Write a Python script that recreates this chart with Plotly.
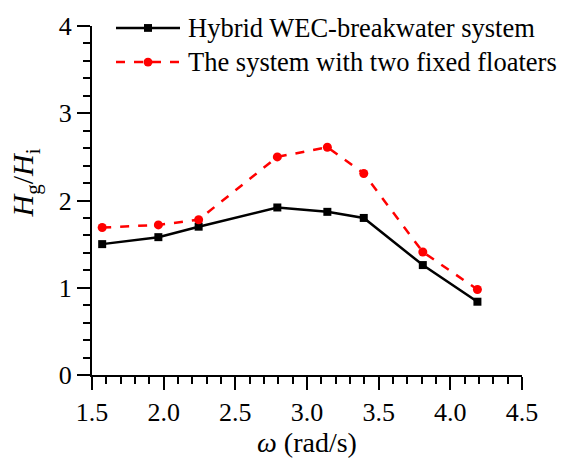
import plotly.graph_objects as go

omega = [1.571, 1.963, 2.244, 2.793, 3.142, 3.396, 3.808, 4.189]
hybrid = [1.50, 1.58, 1.70, 1.92, 1.87, 1.80, 1.26, 0.84]
fixed = [1.69, 1.72, 1.78, 2.50, 2.61, 2.31, 1.41, 0.98]
names = ["Hybrid WEC-breakwater system", "The system with two fixed floaters"]
colors = ["black", "#ff0000"]

FONT = "Liberation Serif, Times New Roman, serif"

fig = go.Figure()
fig.add_trace(go.Scatter(x=omega, y=hybrid, name=names[0], mode="lines+markers",
                         line=dict(color=colors[0], width=2.5),
                         marker=dict(symbol="square", size=8, color=colors[0]),
                         showlegend=False))
fig.add_trace(go.Scatter(x=omega, y=fixed, name=names[1], mode="lines+markers",
                         line=dict(color=colors[1], width=2.5, dash="dash"),
                         marker=dict(symbol="circle", size=9, color=colors[1]),
                         showlegend=False))

axis_common = dict(showline=True, linecolor="black", linewidth=2, mirror=False,
                   ticks="outside", ticklen=13, tickwidth=2, tickcolor="black",
                   showgrid=False, zeroline=False,
                   tickfont=dict(family=FONT, size=26, color="black"))

fig.update_xaxes(range=[1.5, 4.5], dtick=0.5, tickformat=".1f",
                 minor=dict(dtick=0.1, ticks="outside", ticklen=7, tickwidth=2, tickcolor="black"),
                 title=dict(text="<i>ω</i> (rad/s)", font=dict(family=FONT, size=28, color="black"), standoff=5),
                 **axis_common)
fig.update_yaxes(range=[0, 4], dtick=1,
                 minor=dict(dtick=0.2, ticks="outside", ticklen=7, tickwidth=2, tickcolor="black"),
                 **axis_common)

fig.add_annotation(text="<i>H</i><sub>g</sub>/<i>H</i><sub>i</sub>",
                   xref="paper", yref="paper", x=-0.155, y=0.55,
                   xanchor="center", yanchor="middle", textangle=-90, showarrow=False,
                   font=dict(family=FONT, size=30, color="black"))

# manual legend (paper coordinates)
W, H = 430.0, 358.0
leg_rows = [1.0 - 2 / H, 1.0 - 37 / H]
x0, x1, xm, xt = 24 / W, 88 / W, 56 / W, 94 / W
for i in range(2):
    yy = leg_rows[i]
    fig.add_shape(type="line", xref="paper", yref="paper", x0=x0, x1=x1, y0=yy, y1=yy,
                  line=dict(color=colors[i], width=2.5, dash="solid" if i == 0 else "dash"))
    if i == 0:
        fig.add_shape(type="rect", xref="paper", yref="paper",
                      x0=xm - 4 / W, x1=xm + 4 / W, y0=yy - 4 / H, y1=yy + 4 / H,
                      fillcolor=colors[i], line=dict(width=0))
    else:
        fig.add_shape(type="circle", xref="paper", yref="paper",
                      x0=xm - 4.5 / W, x1=xm + 4.5 / W, y0=yy - 4.5 / H, y1=yy + 4.5 / H,
                      fillcolor=colors[i], line=dict(width=0))
    fig.add_annotation(text=names[i], xref="paper", yref="paper", x=xt, y=yy,
                       xanchor="left", yanchor="middle", showarrow=False,
                       font=dict(family=FONT, size=26.5, color="black"))

fig.update_layout(
    width=563, height=464,
    margin=dict(l=92, r=41, t=20, b=86),
    plot_bgcolor="white", paper_bgcolor="white",
    font=dict(family=FONT, color="black"),
    showlegend=False,
)

fig.write_html("out.html")
